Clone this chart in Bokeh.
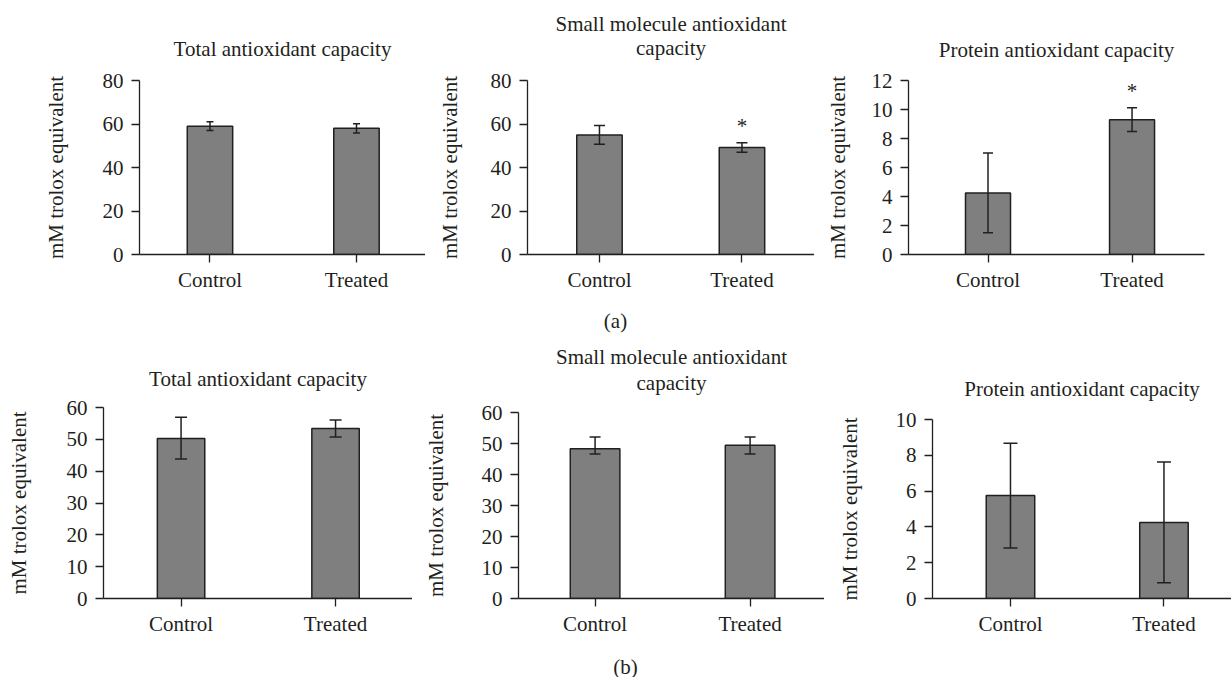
from bokeh.plotting import figure
from bokeh.layouts import row, column
from bokeh.models import Range1d, FixedTicker, Whisker, TeeHead, ColumnDataSource, Label, Title
from bokeh.embed import file_html
from bokeh.resources import INLINE

# ---------------- data ----------------
categories = ["Control", "Treated"]

title_total = ["Total antioxidant capacity"]
title_small = ["Small molecule antioxidant", "capacity"]
title_protein = ["Protein antioxidant capacity"]
y_label = "mM trolox equivalent"
panel_labels = ["(a)", "(b)"]

# (a)
a_total_mean = [59.0, 58.0]
a_total_err_lo = [2.0, 2.1]
a_total_err_hi = [2.0, 2.1]
a_total_ticks = [0, 20, 40, 60, 80]
a_total_sig = ["", ""]

a_small_mean = [55.0, 49.2]
a_small_err_lo = [4.3, 2.2]
a_small_err_hi = [4.3, 2.2]
a_small_ticks = [0, 20, 40, 60, 80]
a_small_sig = ["", "*"]

a_protein_mean = [4.25, 9.3]
a_protein_err_lo = [2.75, 0.82]
a_protein_err_hi = [2.75, 0.82]
a_protein_ticks = [0, 2, 4, 6, 8, 10, 12]
a_protein_sig = ["", "*"]

# (b)
b_total_mean = [50.3, 53.4]
b_total_err_lo = [6.5, 2.7]
b_total_err_hi = [6.6, 2.7]
b_total_ticks = [0, 10, 20, 30, 40, 50, 60]
b_total_sig = ["", ""]

b_small_mean = [48.3, 49.4]
b_small_err_lo = [1.7, 2.8]
b_small_err_hi = [3.8, 2.7]
b_small_ticks = [0, 10, 20, 30, 40, 50, 60]
b_small_sig = ["", ""]

b_protein_mean = [5.75, 4.25]
b_protein_err_lo = [2.93, 3.37]
b_protein_err_hi = [2.93, 3.37]
b_protein_ticks = [0, 2, 4, 6, 8, 10]
b_protein_sig = ["", ""]

# ---------------- style ----------------
DARK = "#231f20"
BAR = "#7f7f7f"
FONT = "Liberation Serif"
FS = "21px"
PAGE_W = 1231


def title_obj(text, standoff, size=FS, valign="bottom"):
    return Title(text=text, align="center", vertical_align=valign, text_font=FONT,
                 text_font_size=size, text_font_style="normal", text_color=DARK,
                 standoff=standoff)


def make_panel(title_lines, mean, err_lo, err_hi, ticks, sig, geom):
    W, H = geom["W"], geom["H"]
    xs = [i + 0.5 for i in range(len(categories))]
    p = figure(width=W, height=H, output_backend="svg", toolbar_location=None,
               title=None,
               x_range=Range1d(geom["x0"], geom["x1"]),
               y_range=Range1d(ticks[0], ticks[-1]),
               min_border_left=geom["bl"], min_border_right=geom["br"],
               min_border_top=geom["bt"], min_border_bottom=geom["bb"])
    p.frame_align = False
    p.background_fill_color = "white"
    p.border_fill_color = "white"
    p.outline_line_color = None
    p.xgrid.visible = False
    p.ygrid.visible = False

    src = ColumnDataSource(dict(
        x=xs, top=mean,
        upper=[m + e for m, e in zip(mean, err_hi)],
        lower=[m - e for m, e in zip(mean, err_lo)],
    ))
    p.vbar(x="x", top="top", bottom=0, width=geom["bw"], source=src,
           fill_color=BAR, line_color=DARK, line_width=1.5)
    cap = geom["cap"]
    w = Whisker(source=src, base="x", upper="upper", lower="lower",
                line_color=DARK, line_width=1.5, level="annotation",
                upper_head=TeeHead(size=cap, line_color=DARK, line_width=1.5),
                lower_head=TeeHead(size=cap, line_color=DARK, line_width=1.5))
    p.add_layout(w)

    for x, u, s in zip(xs, src.data["upper"], sig):
        if s:
            p.add_layout(Label(x=x, y=u, y_offset=17, text=s, text_align="center",
                               text_baseline="alphabetic", text_font=FONT,
                               text_font_size=FS, text_color=DARK))

    # axes
    for ax in (p.xaxis[0], p.yaxis[0]):
        ax.axis_line_color = DARK
        ax.axis_line_width = 1.3
        ax.major_tick_line_color = DARK
        ax.major_tick_line_width = 1.3
        ax.major_tick_in = 0
        ax.major_tick_out = 8
        ax.minor_tick_line_color = None
        ax.major_label_text_font = FONT
        ax.major_label_text_font_size = FS
        ax.major_label_text_color = DARK
    p.xaxis.ticker = FixedTicker(ticks=xs)
    p.xaxis.major_label_overrides = {x: c for x, c in zip(xs, categories)}
    p.xaxis.major_label_standoff = 5
    p.yaxis.ticker = FixedTicker(ticks=ticks)
    p.yaxis.major_label_standoff = 8
    p.yaxis.axis_label = y_label
    p.yaxis.axis_label_text_font = FONT
    p.yaxis.axis_label_text_font_size = FS
    p.yaxis.axis_label_text_font_style = "normal"
    p.yaxis.axis_label_text_color = DARK
    p.yaxis.axis_label_standoff = geom["ls"]

    # title lines: first added sits nearest to the frame
    if len(title_lines) == 1:
        p.add_layout(title_obj(title_lines[0], geom["ts"]), "above")
    else:
        # invisible spacer keeps the two centred lines off the frame
        p.add_layout(title_obj(" ", geom["ts"], size="10px"), "above")
        p.add_layout(title_obj(title_lines[1], 0, valign=geom["va"]), "above")
        p.add_layout(title_obj(title_lines[0], geom["ts2"]), "above")
    return p


def make_strip(text, H, cx, cy):
    s = figure(width=PAGE_W, height=H, output_backend="svg", toolbar_location=None,
               title=None, x_range=Range1d(0, 1), y_range=Range1d(0, 1),
               x_axis_type=None, y_axis_type=None, min_border=0,
               min_border_left=0, min_border_right=0, min_border_top=0, min_border_bottom=0)
    s.outline_line_color = None
    s.background_fill_color = "white"
    s.border_fill_color = "white"
    s.add_layout(Label(x=cx, y=H - cy, x_units="screen", y_units="screen", text=text,
                       text_align="center", text_baseline="middle", text_font=FONT,
                       text_font_size=FS, text_color=DARK))
    return s


HA, HSA, HB, HSB = 305, 30, 320, 22
geoms = {
    "a1": dict(W=425, H=HA, bl=139, br=0, bt=80, bb=51,
               x0=0.019, x1=1.971, bw=0.31, cap=7, ls=32, ts=40),
    "a2": dict(W=389, H=HA, bl=102, br=0, bt=80, bb=51,
               x0=-0.005, x1=2.009, bw=0.319, cap=11, ls=26, ts=6, ts2=0, va="top"),
    "a3": dict(W=417, H=HA, bl=94, br=27, bt=80, bb=51,
               x0=-0.052, x1=2.003, bw=0.3125, cap=10, ls=19, ts=38),
    "b1": dict(W=412, H=HB, bl=103, br=0, bt=72, bb=57,
               x0=-0.002, x1=1.998, bw=0.307, cap=12, ls=33, ts=34),
    "b2": dict(W=412, H=HB, bl=106, br=0, bt=77, bb=57,
               x0=0.006, x1=1.98, bw=0.32, cap=11, ls=31, ts=5, ts2=0, va="bottom"),
    "b3": dict(W=407, H=HB, bl=108, br=0, bt=84, bb=57,
               x0=-0.008, x1=1.94, bw=0.316, cap=14, ls=31, ts=38),
}

pa1 = make_panel(title_total, a_total_mean, a_total_err_lo, a_total_err_hi, a_total_ticks, a_total_sig, geoms["a1"])
pa2 = make_panel(title_small, a_small_mean, a_small_err_lo, a_small_err_hi, a_small_ticks, a_small_sig, geoms["a2"])
pa3 = make_panel(title_protein, a_protein_mean, a_protein_err_lo, a_protein_err_hi, a_protein_ticks, a_protein_sig, geoms["a3"])
pb1 = make_panel(title_total, b_total_mean, b_total_err_lo, b_total_err_hi, b_total_ticks, b_total_sig, geoms["b1"])
pb2 = make_panel(title_small, b_small_mean, b_small_err_lo, b_small_err_hi, b_small_ticks, b_small_sig, geoms["b2"])
pb3 = make_panel(title_protein, b_protein_mean, b_protein_err_lo, b_protein_err_hi, b_protein_ticks, b_protein_sig, geoms["b3"])

strip_a = make_strip(panel_labels[0], HSA, 615, 15)
strip_b = make_strip(panel_labels[1], HSB, 625, 11)

layout = column(row(pa1, pa2, pa3, spacing=0), strip_a,
                row(pb1, pb2, pb3, spacing=0), strip_b, spacing=0)
open("out.html", "w").write(file_html(layout, INLINE))
